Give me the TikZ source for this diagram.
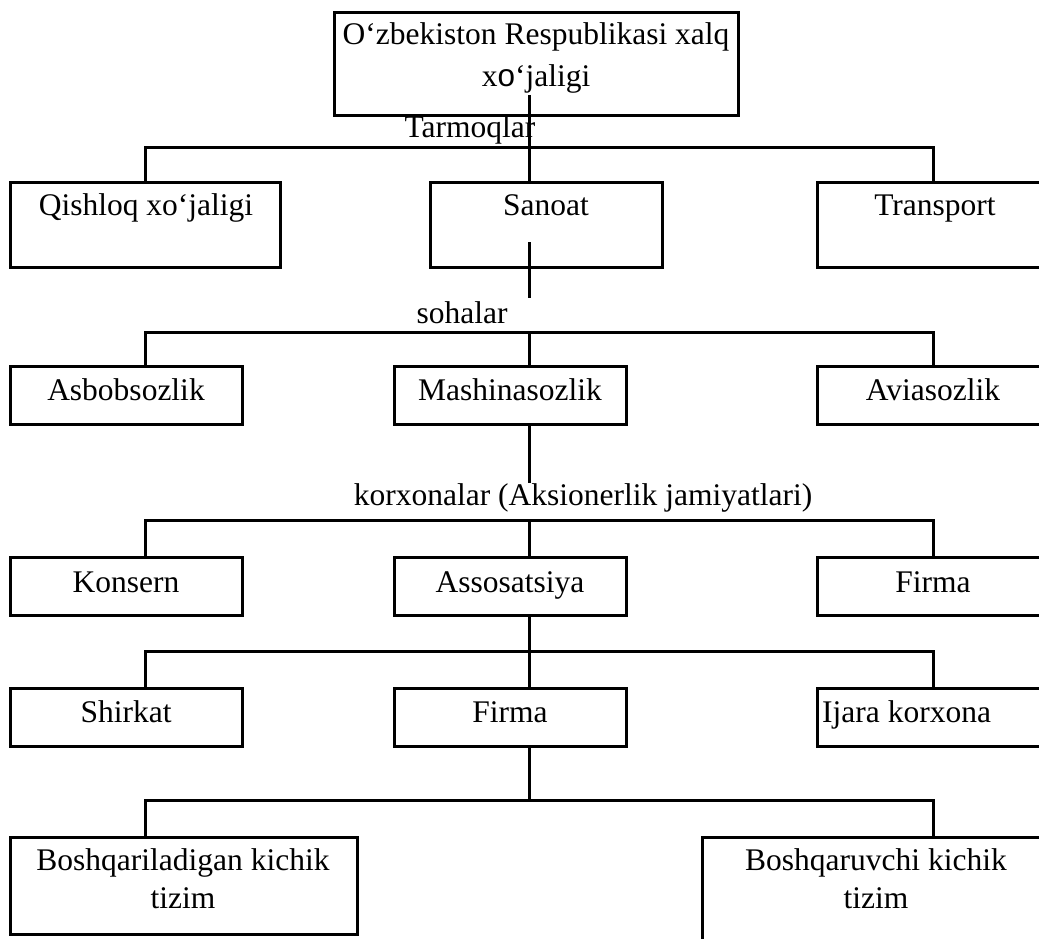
\documentclass[tikz,border=0pt]{standalone}
\usepackage{fontspec}
\setmainfont{Liberation Serif}
\newfontfamily\altsans{Liberation Sans}
\begin{document}
\begin{tikzpicture}[x=1pt,y=-1pt,
  box/.style={draw,line width=3pt,inner sep=0pt,outer sep=0pt},
  wire/.style={line width=3pt},
  txt/.style={font=\fontsize{31.5}{40}\selectfont,inner sep=0pt,anchor=base},
  twoline/.style={txt,align=center}]
\useasboundingbox (0,0) rectangle (1039,939);
\clip (0,0) rectangle (1039,939);

% boxes
\node[box,minimum width=404pt,minimum height=103pt] (top) at (536,64.5) {};
\node[box,minimum width=270pt,minimum height=85pt] (qish) at (145,224.5) {};
\node[box,minimum width=232pt,minimum height=85pt] (sanoat) at (546,224.5) {};
\node[box,minimum width=236pt,minimum height=85pt] (transport) at (935,224.5) {};
\node[box,minimum width=232pt,minimum height=58pt] (asbob) at (126,395) {};
\node[box,minimum width=232pt,minimum height=58pt] (mashina) at (510,395) {};
\node[box,minimum width=232pt,minimum height=58pt] (avia) at (933,395) {};
\node[box,minimum width=232pt,minimum height=58pt] (konsern) at (126,586) {};
\node[box,minimum width=232pt,minimum height=58pt] (assos) at (510,586) {};
\node[box,minimum width=232pt,minimum height=58pt] (firmaA) at (933,586) {};
\node[box,minimum width=232pt,minimum height=58pt] (shirkat) at (126,717) {};
\node[box,minimum width=232pt,minimum height=58pt] (firmaB) at (510,717) {};
\node[box,minimum width=232pt,minimum height=58pt] (ijara) at (933,717) {};
\node[box,minimum width=347pt,minimum height=97pt] (boshA) at (183.5,885.5) {};
\node[box,minimum width=348pt,minimum height=110pt] (boshB) at (876,892) {};

% texts (two-line nodes are anchored on the baseline of their last line)
\node[twoline,font=\fontsize{31.5}{42}\selectfont] (topT) at (536,87)
  {O‘zbekiston Respublikasi xalq\\x{\altsans o}‘jaligi};
\node[txt] (tarmT) at (470,138) {Tarmoqlar};
\node[txt] (qishT) at (146,215) {Qishloq xo‘jaligi};
\node[txt] (sanT) at (546,215) {Sanoat};
\node[txt] (trT) at (935,215) {Transport};
\node[txt] (sohT) at (462,323) {sohalar};
\node[txt] (asbT) at (126,400) {Asbobsozlik};
\node[txt] (mashT) at (510,400) {Mashinasozlik};
\node[txt] (aviaT) at (933,400) {Aviasozlik};
\node[txt] (korT) at (583,505) {korxonalar (Aksionerlik jamiyatlari)};
\node[txt] (konT) at (126,592) {Konsern};
\node[txt] (assT) at (510,592) {Assosatsiya};
\node[txt] (firAT) at (933,592) {Firma};
\node[txt] (shiT) at (126,722) {Shirkat};
\node[txt] (firBT) at (510,722) {Firma};
\node[txt,anchor=base west] (ijT) at (822,722) {Ijara korxona};
\node[twoline,font=\fontsize{31.5}{38}\selectfont] (boshAT) at (183,908)
  {Boshqariladigan kichik\\tizim};
\node[twoline,font=\fontsize{31.5}{38}\selectfont] (boshBT) at (876,908)
  {Boshqaruvchi kichik\\tizim};

% bus coordinates
\coordinate (topTail) at (529,95);
\coordinate (b1L) at (145,148);  \coordinate (b1C) at (529,148);  \coordinate (b1R) at (933,148);
\coordinate (sanTail) at (529,242); \coordinate (sanEnd) at (529,298);
\coordinate (b2L) at (145,332);  \coordinate (b2C) at (529,332);  \coordinate (b2R) at (933,332);
\coordinate (mashEnd) at (529,483);
\coordinate (b3L) at (145,520);  \coordinate (b3C) at (529,520);  \coordinate (b3R) at (933,520);
\coordinate (b4L) at (145,651);  \coordinate (b4C) at (529,651);  \coordinate (b4R) at (933,651);
\coordinate (b5L) at (145,800);  \coordinate (b5C) at (529,800);  \coordinate (b5R) at (933,800);

% level 1: tarmoqlar
\draw[wire] (topTail) -- (b1C) -- (b1C |- sanoat.north);
\draw[wire] (b1L |- qish.north) -- (b1L) -- (b1R) -- (b1R |- transport.north);

% level 2: sohalar
\draw[wire] (sanTail) -- (sanEnd);
\draw[wire] (b2C) -- (b2C |- mashina.north);
\draw[wire] (b2L |- asbob.north) -- (b2L) -- (b2R) -- (b2R |- avia.north);

% level 3: korxonalar
\draw[wire] (b3C |- mashina.south) -- (mashEnd);
\draw[wire] (b3C) -- (b3C |- assos.north);
\draw[wire] (b3L |- konsern.north) -- (b3L) -- (b3R) -- (b3R |- firmaA.north);

% level 4
\draw[wire] (b4C |- assos.south) -- (b4C) -- (b4C |- firmaB.north);
\draw[wire] (b4L |- shirkat.north) -- (b4L) -- (b4R) -- (b4R |- ijara.north);

% level 5
\draw[wire] (b5C |- firmaB.south) -- (b5C);
\draw[wire] (b5L |- boshA.north) -- (b5L) -- (b5R) -- (b5R |- boshB.north);
\end{tikzpicture}
\end{document}
